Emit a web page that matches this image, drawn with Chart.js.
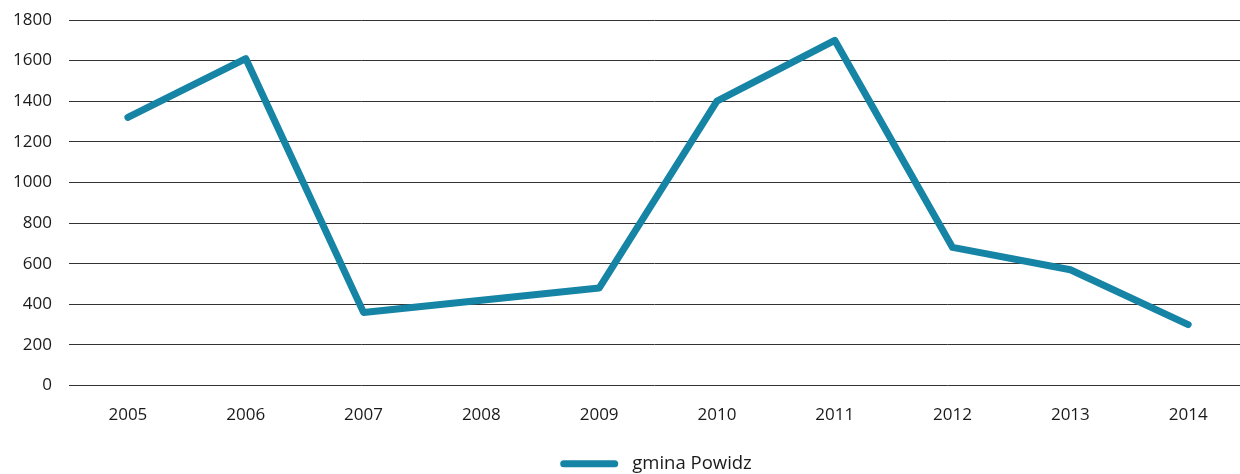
<!DOCTYPE html>
<html>
<head>
<meta charset="utf-8">
<script src="https://cdn.jsdelivr.net/npm/chart.js@4/dist/chart.umd.min.js"></script>
<style>
  html, body { margin: 0; padding: 0; background: #fff; }
  #wrap { width: 1240px; height: 474px; position: relative; }
</style>
</head>
<body>
<div id="wrap"><canvas id="chart"></canvas></div>
<script>
// Data
const years = [2005, 2006, 2007, 2008, 2009, 2010, 2011, 2012, 2013, 2014];
const powidz = [1320, 1610, 360, 420, 480, 1400, 1700, 680, 570, 300];
const yTicks = [0, 200, 400, 600, 800, 1000, 1200, 1400, 1600, 1800];
const seriesLabel = 'gmina Powidz';

const lineColor = '#1584a5';
const textColor = '#1a1a1a';
const fontFamily = '"Open Sans", sans-serif';

// move legend a bit right and down like in the original
const legendShift = {
  id: 'legendShift',
  afterLayout(chart) {
    const lg = chart.legend;
    lg.left += 72;
    lg.top += 9;
    lg.bottom += 9;
  }
};

new Chart(document.getElementById('chart'), {
  type: 'line',
  data: {
    datasets: [{
      label: seriesLabel,
      data: years.map((y, i) => ({ x: y, y: powidz[i] })),
      borderColor: lineColor,
      backgroundColor: lineColor,
      borderWidth: 7,
      borderCapStyle: 'round',
      borderJoinStyle: 'round',
      pointRadius: 0,
      tension: 0
    }]
  },
  options: {
    responsive: true,
    maintainAspectRatio: false,
    animation: false,
    layout: { padding: { top: 20, right: 0, bottom: 0, left: 0 } },
    plugins: {
      legend: {
        position: 'bottom',
        labels: {
          color: textColor,
          font: { family: fontFamily, size: 18.5 },
          boxWidth: 58,
          boxHeight: 7,
          padding: 0,
          useBorderRadius: true,
          generateLabels: (chart) => chart.data.datasets.map((ds, i) => ({
            text: ' ' + ds.label,
            fillStyle: ds.borderColor,
            strokeStyle: ds.borderColor,
            lineWidth: 0,
            borderRadius: 3.5,
            fontColor: textColor,
            datasetIndex: i,
            hidden: false
          }))
        }
      },
      tooltip: { enabled: false }
    },
    scales: {
      x: {
        type: 'linear',
        min: 2004.5,
        max: 2014.44,
        afterBuildTicks: (axis) => { axis.ticks = years.map(v => ({ value: v })); },
        afterFit: (axis) => { axis.height = 60; },
        grid: { display: false, drawTicks: false },
        border: { display: false },
        ticks: {
          color: textColor,
          font: { family: fontFamily, size: 17 },
          padding: 19,
          maxRotation: 0,
          autoSkip: false,
          callback: (v) => String(v)
        }
      },
      y: {
        min: 0,
        max: 1800,
        afterBuildTicks: (axis) => { axis.ticks = yTicks.map(v => ({ value: v })); },
        afterFit: (axis) => {
          axis.width = 69;
          axis.paddingTop = 0;
          axis.paddingBottom = 0;
        },
        grid: { color: '#333', lineWidth: 1, drawTicks: false },
        border: { display: false },
        ticks: {
          color: textColor,
          font: { family: fontFamily, size: 17 },
          padding: 17,
          callback: (v) => String(v)
        }
      }
    }
  },
  plugins: [legendShift]
});
</script>
</body>
</html>
